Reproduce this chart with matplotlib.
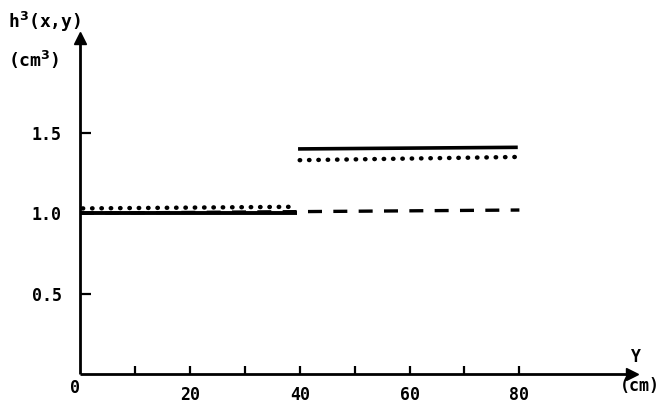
import matplotlib
matplotlib.use("Agg")
import matplotlib.pyplot as plt

# ---- data ----
solid_left_x = [0, 39.5]
solid_left_y = [1.00, 1.00]
solid_right_x = [39.7, 79.7]
solid_right_y = [1.40, 1.41]
dotted_left_x = [0.5, 39.0]
dotted_left_y = [1.03, 1.04]
dotted_right_x = [40.0, 79.5]
dotted_right_y = [1.33, 1.35]
dashed_x = [0, 80]
dashed_y = [1.00, 1.02]

x_major_ticks = [20, 40, 60, 80]
x_minor_ticks = [10, 30, 50, 70]
y_ticks = [0.5, 1.0, 1.5]
y_tick_labels = ["0.5", "1.0", "1.5"]

FONT = ["DejaVu Sans Mono", "DejaVu Sans"]
W = "bold"

fig = plt.figure(figsize=(6.6, 4.03), dpi=100)
ax = fig.add_axes([80 / 660, 29 / 403, (632 - 80) / 660, (374 - 38) / 403])
ax.set_xlim(0, 100.5)
ax.set_ylim(0, 2.09)

for s in ["top", "right"]:
    ax.spines[s].set_visible(False)
for s in ["left", "bottom"]:
    ax.spines[s].set_linewidth(2.0)
    ax.spines[s].set_capstyle("butt")

# arrowheads
ax.plot(1, 0, ">", color="k", markersize=9, transform=ax.transAxes, clip_on=False)
ax.plot(0, 1, "^", color="k", markersize=9, transform=ax.transAxes, clip_on=False)

ax.set_xticks(x_major_ticks)
ax.set_xticks(x_minor_ticks, minor=True)
ax.set_xticklabels([str(v) for v in x_major_ticks], fontfamily=FONT, fontsize=12, fontweight=W)
ax.set_yticks(y_ticks)
ax.set_yticklabels(y_tick_labels, fontfamily=FONT, fontsize=12, fontweight=W)
ax.tick_params(axis="x", which="both", direction="in", length=6, width=1.6, color="k")
ax.tick_params(axis="y", which="both", direction="in", length=8, width=1.6, color="k")
ax.tick_params(axis="x", which="major", pad=9)
ax.tick_params(axis="y", which="major", pad=13)

# data lines
ax.plot(dashed_x, dashed_y, color="k", lw=2.4, dashes=(4.2, 3.4), dash_capstyle="butt")
ax.plot(solid_left_x, solid_left_y, color="k", lw=2.8, solid_capstyle="butt")
ax.plot(solid_right_x, solid_right_y, color="k", lw=2.6, solid_capstyle="butt")
ax.plot(dotted_left_x, dotted_left_y, color="k", lw=3.2, dashes=(0.1, 2.0), dash_capstyle="round")
ax.plot(dotted_right_x, dotted_right_y, color="k", lw=3.2, dashes=(0.1, 2.0), dash_capstyle="round")

# labels
fig.text(8 / 660, 1 - 22 / 403, r"h$^\mathbf{3}$(x,y)", fontfamily=FONT, fontsize=13, fontweight=W,
         ha="left", va="center")
fig.text(8 / 660, 1 - 60 / 403, r"(cm$^\mathbf{3}$)", fontfamily=FONT, fontsize=13, fontweight=W,
         ha="left", va="center")
fig.text(636 / 660, 1 - 357 / 403, "Y", fontfamily=FONT, fontsize=12, fontweight=W, ha="center", va="center")
fig.text(640 / 660, 1 - 386 / 403, "(cm)", fontfamily=FONT, fontsize=12, fontweight=W, ha="center", va="center")
fig.text(75 / 660, 1 - 388 / 403, "0", fontfamily=FONT, fontsize=12, fontweight=W, ha="center", va="center")

fig.savefig("out.png", dpi=100)
